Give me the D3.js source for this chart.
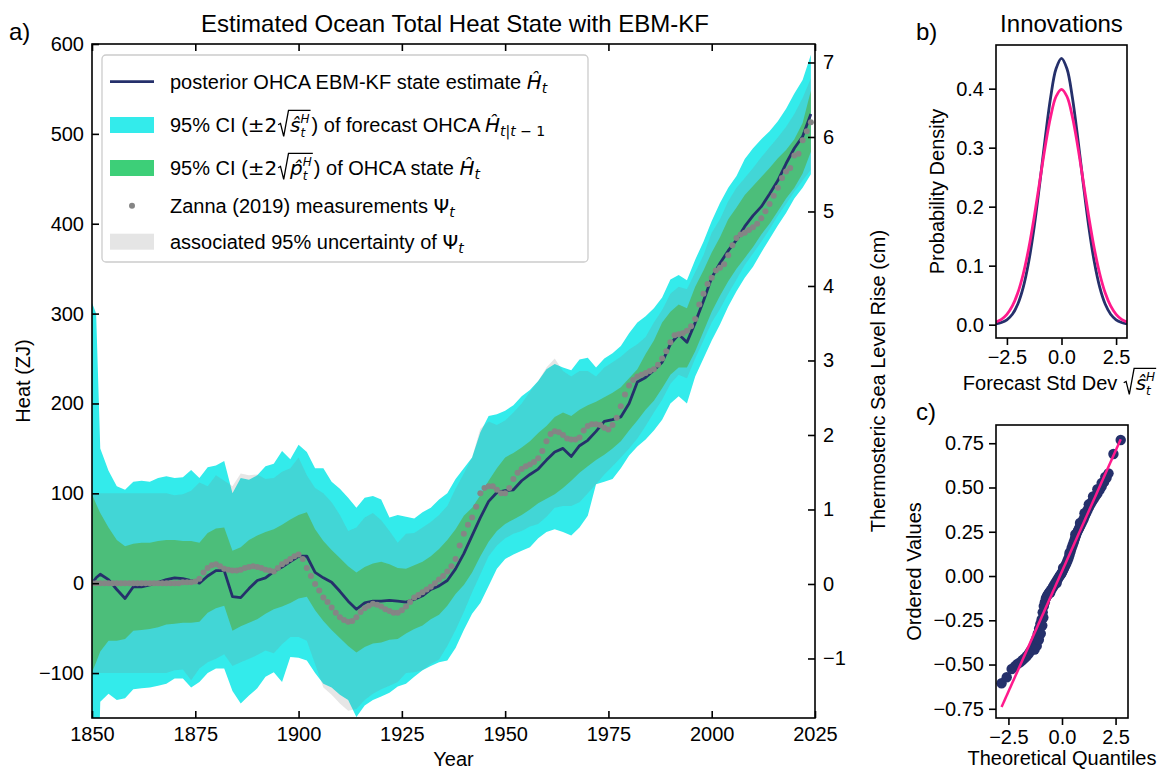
<!DOCTYPE html>
<html><head><meta charset="utf-8">
<script src="https://cdn.jsdelivr.net/npm/d3@7"></script>
<style>
body{margin:0;background:#fff}
text{font-family:"Liberation Sans",Arial,sans-serif;fill:#000;white-space:pre}
</style>
</head><body>
<svg id="c" width="1164" height="769" xmlns="http://www.w3.org/2000/svg"></svg>
<script>
// ---------------- DATA ----------------
const bandYears = [1850,1851,1852,1854,1856,1858,1860,1862,1864,1866,1868,1870,1872,1874,1876,1878,1880,1882,1884,1886,1888,1890,1892,1894,1896,1898,1900,1902,1904,1906,1908,1910,1912,1914,1916,1918,1920,1922,1924,1926,1928,1930,1932,1934,1936,1938,1940,1942,1944,1946,1948,1950,1952,1954,1956,1958,1960,1962,1964,1966,1968,1970,1972,1974,1976,1978,1980,1982,1984,1986,1988,1990,1992,1994,1996,1998,2000,2002,2004,2006,2008,2010,2012,2014,2016,2018,2020,2022,2024];
// posterior OHCA EBM-KF state estimate (ZJ)
const posterior = [0,6,10,4,-7,-17,-4,-4,-2,1,4,6,5,3,0,8,14,14,-15,-16,-6,3,6,13,18,24,30,30,12,6,1,-9,-20,-29,-22,-20,-20,-19,-20,-21,-18,-14,-7,-3,3,16,33,53,73,91,101,103,104,114,121,127,137,146,150,141,153,159,169,180,182,185,200,224,229,237,246,266,277,268,290,314,340,356,370,382,397,409,419,433,448,467,484,497,522];
// 95% CI of OHCA state
const stateUpper = [99,88,78,62,48,41,44,45,45,47,48,48,47,47,45,56,61,62,36,40,48,53,57,60,65,71,76,79,60,47,37,28,19,12,18,22,24,21,17,16,20,24,30,38,48,60,75,84,98,114,128,140,145,151,158,167,175,185,190,186,193,198,202,207,212,218,228,238,255,270,290,302,310,306,330,348,368,385,405,418,432,442,452,462,473,482,494,512,548];
const stateLower = [-99,-88,-76,-64,-64,-62,-53,-52,-51,-49,-46,-45,-44,-44,-43,-33,-28,-25,-53,-48,-44,-40,-34,-29,-26,-22,-17,-15,-30,-42,-52,-61,-70,-77,-71,-67,-66,-63,-62,-56,-51,-47,-40,-35,-25,-12,-2,12,30,46,58,66,71,76,82,89,94,99,106,114,123,130,137,143,150,158,170,181,193,203,217,232,240,240,258,280,302,320,336,350,362,374,388,400,414,428,440,456,480];
// 95% CI of forecast OHCA
const forecastUpper = [312,300,150,125,108,104,113,114,113,117,119,117,118,126,117,129,131,136,100,117,115,120,130,133,147,138,154,146,128,128,113,105,95,84,95,97,93,73,76,74,72,79,84,93,100,116,128,140,168,186,188,192,198,208,215,225,238,244,240,237,249,251,240,250,256,264,278,290,297,306,318,338,343,337,360,380,403,423,440,453,472,484,494,503,514,528,545,560,588];
const forecastLower = [-310,-310,-132,-123,-130,-128,-118,-117,-116,-114,-112,-106,-106,-116,-110,-100,-95,-95,-120,-134,-125,-117,-104,-99,-110,-82,-83,-86,-100,-112,-116,-124,-130,-149,-136,-130,-126,-122,-115,-112,-104,-97,-92,-88,-86,-72,-52,-34,-22,-3,16,27,32,36,40,50,57,60,57,53,62,75,110,113,116,128,142,152,160,170,182,200,208,200,230,250,270,288,308,325,340,352,368,383,398,412,428,440,455];
// associated 95% uncertainty of Zanna measurements
const zannaUpper = [100,100,100,100,100,100,100,100,100,100,100,98,99,103,112,108,120,114,108,122,120,121,116,117,124,128,140,120,106,100,90,76,58,62,73,78,70,58,45,55,56,62,68,76,86,105,122,140,172,180,176,181,190,200,213,225,240,250,236,230,236,236,230,240,246,252,260,266,274,290,304,322,330,327,346,365,390,405,425,440,451,462,474,485,496,508,522,540,562];
const zannaLower = [-100,-100,-100,-100,-100,-100,-100,-100,-100,-100,-100,-97,-96,-108,-95,-88,-84,-79,-92,-88,-84,-80,-75,-78,-68,-60,-60,-64,-90,-116,-124,-134,-142,-140,-130,-123,-118,-114,-110,-100,-99,-97,-90,-85,-70,-52,-32,-10,10,30,42,50,55,58,63,66,74,84,86,86,90,100,110,121,130,140,150,161,175,190,204,222,232,228,250,270,290,305,322,338,354,367,380,394,409,422,436,448,460];
// Zanna (2019) measurements, yearly
const zannaYears = [1850,1851,1852,1853,1854,1855,1856,1857,1858,1859,1860,1861,1862,1863,1864,1865,1866,1867,1868,1869,1870,1871,1872,1873,1874,1875,1876,1877,1878,1879,1880,1881,1882,1883,1884,1885,1886,1887,1888,1889,1890,1891,1892,1893,1894,1895,1896,1897,1898,1899,1900,1901,1902,1903,1904,1905,1906,1907,1908,1909,1910,1911,1912,1913,1914,1915,1916,1917,1918,1919,1920,1921,1922,1923,1924,1925,1926,1927,1928,1929,1930,1931,1932,1933,1934,1935,1936,1937,1938,1939,1940,1941,1942,1943,1944,1945,1946,1947,1948,1949,1950,1951,1952,1953,1954,1955,1956,1957,1958,1959,1960,1961,1962,1963,1964,1965,1966,1967,1968,1969,1970,1971,1972,1973,1974,1975,1976,1977,1978,1979,1980,1981,1982,1983,1984,1985,1986,1987,1988,1989,1990,1991,1992,1993,1994,1995,1996,1997,1998,1999,2000,2001,2002,2003,2004,2005,2006,2007,2008,2009,2010,2011,2012,2013,2014,2015,2016,2017,2018,2019,2020,2021,2022,2023,2024];
const zannaValues = [0,0,0,0,0,0,0,0,0,0,0,0,0,0,0,0,0,0,0,0,0,0,
 1,1,1,2,5,12,17,20,21,19,16,15,14,14,15,17,18,19,18,17,15,14,13,17,21,24,27,30,32,
 27,17,8,-1,-8,-16,-21,-27,-33,-38,-41,-43,-42,-38,-32,-28,-25,-23,-24,-26,
 -29,-31,-33,-33,-30,-26,-21,-16,-13,-10,-7,-4,0,4,8,13,19,27,42,55,
 65,73,85,100,106,108,108,104,100,100,
 106,116,123,127,130,132,135,139,147,158,166,169,168,165,161,160,160,162,170,175,
 177,177,176,173,171,176,184,197,210,220,226,230,232,234,236,238,243,250,258,268,
 276,277,278,281,286,294,310,322,333,340,
 348,351,355,365,376,384,388,390,393,396,400,406,414,422,431,440,451,458,462,476,478,493,503,513];
const yearTicks = [1850,1875,1900,1925,1950,1975,2000,2025];
const heatTicks = [-100,0,100,200,300,400,500,600];
const slrTicks = [-1,0,1,2,3,4,5,6,7];

// Panel b: innovation densities
const densX = [-3,-2.75,-2.5,-2.25,-2,-1.75,-1.5,-1.25,-1,-0.75,-0.5,-0.25,0,0.25,0.5,0.75,1,1.25,1.5,1.75,2,2.25,2.5,2.75,3];
const innovDensity = [0.0014,0.0036,0.0083,0.0177,0.0349,0.0635,0.1069,0.1660,0.2380,0.3149,0.3847,0.4338,0.4515,0.4338,0.3847,0.3149,0.2380,0.1660,0.1069,0.0635,0.0349,0.0177,0.0083,0.0036,0.0014];
const normalDensity = [0.0044,0.0091,0.0175,0.0317,0.0540,0.0863,0.1295,0.1826,0.2420,0.3011,0.3521,0.3867,0.3989,0.3867,0.3521,0.3011,0.2420,0.1826,0.1295,0.0863,0.0540,0.0317,0.0175,0.0091,0.0044];
const densXTicks = [-2.5,0,2.5];
const densYTicks = [0,0.1,0.2,0.3,0.4];

// Panel c: QQ plot
const qqTheoretical = [-2.82,-2.58,-2.35,-2.2,-2.08,-1.96,-1.85,-1.75,-1.65,-1.56,-1.48,-1.40,-1.33,-1.26,-1.19,-1.13,-1.07,-1.01,-0.95,-0.90,-0.85,-0.80,-0.75,-0.70,-0.65,-0.60,-0.55,-0.50,-0.45,-0.40,-0.35,-0.30,-0.25,-0.20,-0.15,-0.10,-0.05,0.0,0.05,0.10,0.15,0.20,0.25,0.30,0.35,0.40,0.45,0.50,0.55,0.60,0.65,0.70,0.75,0.80,0.85,0.90,0.95,1.01,1.07,1.13,1.19,1.26,1.33,1.40,1.48,1.56,1.65,1.75,1.85,1.96,2.08,2.17,2.4,2.74,
  -1.28,-1.18,-1.08,-0.99,-0.92,-0.87,-0.55,-0.25,0.05,0.35,0.62,0.84,1.05,1.25,1.45,1.65,1.85,2.02];
const qqOrdered = [-0.606,-0.572,-0.525,-0.51,-0.497,-0.488,-0.476,-0.465,-0.453,-0.44,-0.425,-0.41,-0.395,-0.372,-0.35,-0.325,-0.298,-0.27,-0.245,-0.205,-0.17,-0.148,-0.125,-0.113,-0.103,-0.094,-0.086,-0.078,-0.068,-0.058,-0.048,-0.038,-0.028,-0.018,-0.008,0.002,0.01,0.02,0.032,0.045,0.058,0.07,0.085,0.1,0.118,0.138,0.158,0.175,0.192,0.21,0.228,0.245,0.258,0.27,0.283,0.295,0.308,0.322,0.34,0.356,0.372,0.39,0.405,0.42,0.435,0.45,0.465,0.485,0.505,0.53,0.555,0.58,0.689,0.768,
  -0.415,-0.395,-0.36,-0.325,-0.28,-0.235,-0.095,-0.04,0.045,0.13,0.235,0.3,0.355,0.405,0.45,0.49,0.525,0.56];
const qqLineX = [-2.82,2.74];
const qqLineY = [-0.740,0.772];
const qqXTicks = [-2.5,0,2.5];
const qqYTicks = [-0.75,-0.5,-0.25,0,0.25,0.5,0.75];

// ---------------- STYLE ----------------
const NAVY = "#25306b", PINK = "#ff1a8c", CYAN = "#33ebeb", GREEN = "#4cbe7a", GREENLEG = "#3dcf78";
const FS = 20;
const svg = d3.select("#c");
const MATH = "DejaVu Sans";

function styleAxis(g){
  g.attr("font-size", FS).attr("font-family", "Liberation Sans, Arial, sans-serif");
  g.selectAll(".domain").remove();
  g.selectAll(".tick line").attr("stroke","#000").attr("stroke-width",1.6);
  g.selectAll(".tick text").attr("fill","#000");
}

// rich text: sequence of parts (sub/sup scripts, radicals)
function rich(parent, x, y, parts, size, anchor){
  const g = parent.append("g");
  let cx = x, radX = null, pendW = 0;
  parts.forEach(p => {
    if (p.rad === 1){ radX = cx; cx += size*0.64; return; }
    if (p.rad === 2){
      const s = size;
      g.append("path").attr("fill","none").attr("stroke","#000").attr("stroke-width",1.3)
        .attr("d", `M${radX+0.04*s},${y-0.36*s} L${radX+0.16*s},${y-0.43*s} L${radX+0.32*s},${y+0.22*s} L${radX+0.56*s},${y-1.08*s} L${cx+1},${y-1.08*s}`);
      cx += 2; return;
    }
    const stacked = p.st;
    const s = stacked ? size*0.6 : ((p.sub||p.sup) ? size*0.7 : size);
    const dy = p.sub ? (stacked ? size*0.27 : size*0.22) : (p.sup ? (stacked ? -size*0.46 : -size*0.42) : 0);
    const t = g.append("text").attr("x", cx).attr("y", y+dy).attr("font-size", s)
      .attr("xml:space","preserve").text(p.t);
    if (p.m) t.style("font-family", MATH);
    if (p.i) t.style("font-style", "italic");
    const w = t.node().getComputedTextLength();
    if (p.nx){ pendW = w; }
    else { cx += Math.max(w, pendW); pendW = 0; }
  });
  if (anchor === "middle"){
    const tot = cx - x;
    g.attr("transform", `translate(${-tot/2},0)`);
  }
  return g;
}

// ---------------- PANEL A ----------------
const x = d3.scaleLinear().domain([1850,2025]).range([92,815]);
const y = d3.scaleLinear().domain([-150,600]).range([718,44]);
const yR = d3.scaleLinear().domain([-1.799,7.248]).range([718,44]);

svg.append("clipPath").attr("id","clipA").append("rect").attr("x",92).attr("y",44).attr("width",723).attr("height",674);
const plotA = svg.append("g").attr("clip-path","url(#clipA)");

const bandRows = bandYears.map((yr,i)=>({yr, fu:forecastUpper[i], fl:forecastLower[i], zu:zannaUpper[i], zl:zannaLower[i], su:stateUpper[i], sl:stateLower[i], p:posterior[i]}));
plotA.append("path").datum(bandRows).attr("fill",CYAN)
  .attr("d", d3.area().x(d=>x(d.yr)).y0(d=>y(d.fl)).y1(d=>y(d.fu)));
plotA.append("path").datum(bandRows).attr("fill","rgba(128,128,128,0.2)")
  .attr("d", d3.area().x(d=>x(d.yr)).y0(d=>y(d.zl)).y1(d=>y(d.zu)));
plotA.append("path").datum(bandRows).attr("fill",GREEN)
  .attr("d", d3.area().x(d=>x(d.yr)).y0(d=>y(d.sl)).y1(d=>y(d.su)));
plotA.append("path").datum(bandRows).attr("fill","none").attr("stroke",NAVY).attr("stroke-width",2.8)
  .attr("stroke-linejoin","round")
  .attr("d", d3.line().x(d=>x(d.yr)).y(d=>y(d.p)));
plotA.selectAll("circle.z").data(zannaYears.map((yr,i)=>({yr,v:zannaValues[i]}))).join("circle")
  .attr("class","z").attr("cx",d=>x(d.yr)).attr("cy",d=>y(d.v)).attr("r",3).attr("fill","#858585");

// axes
const axB = svg.append("g").attr("transform","translate(0,718)")
  .call(d3.axisBottom(x).tickValues(yearTicks).tickFormat(d3.format("d")).tickSizeInner(-7).tickSizeOuter(0).tickPadding(9));
styleAxis(axB);
const axT = svg.append("g").attr("transform","translate(0,44)")
  .call(d3.axisTop(x).tickValues(yearTicks).tickFormat("").tickSizeInner(-7).tickSizeOuter(0));
styleAxis(axT);
const axL = svg.append("g").attr("transform","translate(92,0)")
  .call(d3.axisLeft(y).tickValues(heatTicks).tickFormat(d3.format("d")).tickSizeInner(-7).tickSizeOuter(0).tickPadding(8));
styleAxis(axL);
const axR = svg.append("g").attr("transform","translate(815,0)")
  .call(d3.axisRight(yR).tickValues(slrTicks).tickFormat(d3.format("d")).tickSizeInner(-7).tickSizeOuter(0).tickPadding(8));
styleAxis(axR);
svg.append("rect").attr("x",92).attr("y",44).attr("width",723).attr("height",674)
  .attr("fill","none").attr("stroke","#000").attr("stroke-width",1.6);

svg.append("text").attr("x",455).attr("y",32).attr("text-anchor","middle").attr("font-size",24).text("Estimated Ocean Total Heat State with EBM-KF");
svg.append("text").attr("x",9).attr("y",40).attr("font-size",24).text("a)");
svg.append("text").attr("x",453.5).attr("y",766).attr("text-anchor","middle").attr("font-size",FS).text("Year");
svg.append("text").attr("transform","translate(30,381) rotate(-90)").attr("text-anchor","middle").attr("font-size",FS).text("Heat (ZJ)");
svg.append("text").attr("transform","translate(885,381) rotate(-90)").attr("text-anchor","middle").attr("font-size",FS).text("Thermosteric Sea Level Rise (cm)");

// legend
const leg = svg.append("g");
leg.append("rect").attr("x",102).attr("y",55).attr("width",486).attr("height",207).attr("rx",4)
  .attr("fill","rgba(255,255,255,0.8)").attr("stroke","#cccccc").attr("stroke-width",1.3);
const rowsY = [81.7,125,168,205.7,241.7];
leg.append("line").attr("x1",110).attr("x2",154).attr("y1",rowsY[0]).attr("y2",rowsY[0]).attr("stroke",NAVY).attr("stroke-width",2.8);
leg.append("rect").attr("x",110).attr("y",rowsY[1]-8).attr("width",44).attr("height",16).attr("fill",CYAN);
leg.append("rect").attr("x",110).attr("y",rowsY[2]-8).attr("width",44).attr("height",16).attr("fill",GREENLEG);
leg.append("circle").attr("cx",132).attr("cy",rowsY[3]).attr("r",3).attr("fill","#858585");
leg.append("rect").attr("x",110).attr("y",rowsY[4]-8).attr("width",44).attr("height",16).attr("fill","#e5e5e5");
const TX = 170, bl = 7;
rich(leg, TX, rowsY[0]+bl, [{t:"posterior OHCA EBM-KF state estimate "},{t:"Ĥ",m:1,i:1},{t:"t",m:1,i:1,sub:1}], FS);
rich(leg, TX, rowsY[1]+bl, [{t:"95% CI ("},{t:"±2",m:1},{rad:1},{t:"ŝ",m:1,i:1},{t:"t",m:1,i:1,sub:1,nx:1,st:1},{t:"H",m:1,i:1,sup:1,st:1},{rad:2},{t:") of forecast OHCA "},{t:"Ĥ",m:1,i:1},{t:"t",m:1,i:1,sub:1},{t:"|",m:1,sub:1},{t:"t",m:1,i:1,sub:1},{t:" \u2212 1",m:1,sub:1}], FS);
rich(leg, TX, rowsY[2]+bl, [{t:"95% CI ("},{t:"±2",m:1},{rad:1},{t:"p\u0302",m:1,i:1},{t:"t",m:1,i:1,sub:1,nx:1,st:1},{t:"H",m:1,i:1,sup:1,st:1},{rad:2},{t:") of OHCA state "},{t:"Ĥ",m:1,i:1},{t:"t",m:1,i:1,sub:1}], FS);
rich(leg, TX, rowsY[3]+bl, [{t:"Zanna (2019) measurements "},{t:"Ψ",m:1},{t:"t",m:1,i:1,sub:1}], FS);
rich(leg, TX, rowsY[4]+bl, [{t:"associated 95% uncertainty of "},{t:"Ψ",m:1},{t:"t",m:1,i:1,sub:1}], FS);

// ---------------- PANEL B ----------------
const xb = d3.scaleLinear().domain([-3,3]).range([996,1127]);
const yb = d3.scaleLinear().domain([-0.0226,0.474]).range([338,45]);
svg.append("clipPath").attr("id","clipB").append("rect").attr("x",996).attr("y",45).attr("width",131).attr("height",293);
const plotB = svg.append("g").attr("clip-path","url(#clipB)");
const lineB = d3.line().x(d=>xb(d[0])).y(d=>yb(d[1])).curve(d3.curveCatmullRom);
plotB.append("path").datum(densX.map((v,i)=>[v,innovDensity[i]])).attr("fill","none").attr("stroke",NAVY).attr("stroke-width",2.8).attr("d",lineB);
plotB.append("path").datum(densX.map((v,i)=>[v,normalDensity[i]])).attr("fill","none").attr("stroke",PINK).attr("stroke-width",2.8).attr("d",lineB);
const bxB = svg.append("g").attr("transform","translate(0,338)")
  .call(d3.axisBottom(xb).tickValues(densXTicks).tickFormat(d3.format(".1f")).tickSizeInner(7).tickSizeOuter(0).tickPadding(5));
styleAxis(bxB);
const byB = svg.append("g").attr("transform","translate(996,0)")
  .call(d3.axisLeft(yb).tickValues(densYTicks).tickFormat(d3.format(".1f")).tickSizeInner(7).tickSizeOuter(0).tickPadding(5));
styleAxis(byB);
svg.append("rect").attr("x",996).attr("y",45).attr("width",131).attr("height",293).attr("fill","none").attr("stroke","#000").attr("stroke-width",1.6);
svg.append("text").attr("x",1061.5).attr("y",32).attr("text-anchor","middle").attr("font-size",24).text("Innovations");
svg.append("text").attr("x",916).attr("y",40).attr("font-size",24).text("b)");
svg.append("text").attr("transform","translate(944,191.5) rotate(-90)").attr("text-anchor","middle").attr("font-size",FS).text("Probability Density");
rich(svg, 1060, 390, [{t:"Forecast Std Dev "},{rad:1},{t:"ŝ",m:1,i:1},{t:"t",m:1,i:1,sub:1,nx:1,st:1},{t:"H",m:1,i:1,sup:1,st:1},{rad:2}], FS, "middle");

// ---------------- PANEL C ----------------
const xc = d3.scaleLinear().domain([-3.08,3.08]).range([996,1128]);
const yc = d3.scaleLinear().domain([-0.802,0.853]).range([718,425]);
svg.append("clipPath").attr("id","clipC").append("rect").attr("x",996).attr("y",425).attr("width",132).attr("height",293);
const plotC = svg.append("g").attr("clip-path","url(#clipC)");
plotC.selectAll("circle.q").data(qqTheoretical.map((v,i)=>[v,qqOrdered[i]])).join("circle")
  .attr("class","q").attr("cx",d=>xc(d[0])).attr("cy",d=>yc(d[1])).attr("r",5.2).attr("fill",NAVY);
plotC.append("path").datum(qqLineX.map((v,i)=>[v,qqLineY[i]])).attr("fill","none").attr("stroke",PINK).attr("stroke-width",2.5)
  .attr("d", d3.line().x(d=>xc(d[0])).y(d=>yc(d[1])));
const bxC = svg.append("g").attr("transform","translate(0,718)")
  .call(d3.axisBottom(xc).tickValues(qqXTicks).tickFormat(d3.format(".1f")).tickSizeInner(7).tickSizeOuter(0).tickPadding(5));
styleAxis(bxC);
const byC = svg.append("g").attr("transform","translate(996,0)")
  .call(d3.axisLeft(yc).tickValues(qqYTicks).tickFormat(d3.format(".2f")).tickSizeInner(7).tickSizeOuter(0).tickPadding(5));
styleAxis(byC);
svg.append("rect").attr("x",996).attr("y",425).attr("width",132).attr("height",293).attr("fill","none").attr("stroke","#000").attr("stroke-width",1.6);
svg.append("text").attr("x",916).attr("y",420).attr("font-size",24).text("c)");
svg.append("text").attr("transform","translate(921,571.5) rotate(-90)").attr("text-anchor","middle").attr("font-size",FS).text("Ordered Values");
svg.append("text").attr("x",1062).attr("y",765).attr("text-anchor","middle").attr("font-size",FS).text("Theoretical Quantiles");
</script>
</body></html>
